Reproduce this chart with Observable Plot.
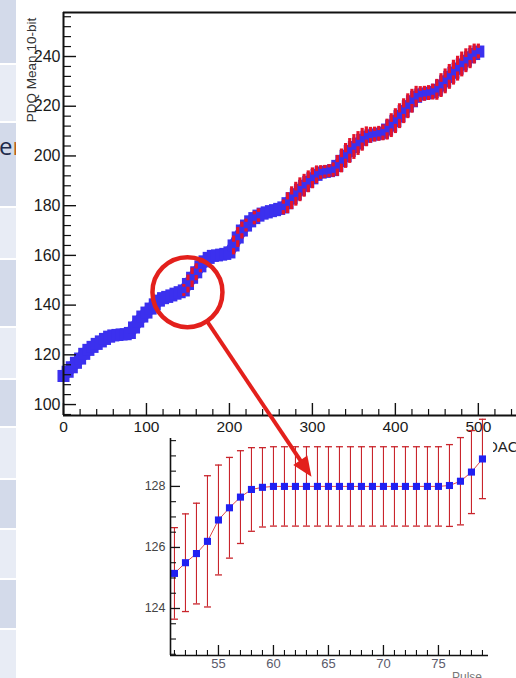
<!DOCTYPE html>
<html>
<head>
<meta charset="utf-8">
<script src="https://cdn.jsdelivr.net/npm/d3@7"></script>
<script src="https://cdn.jsdelivr.net/npm/@observablehq/plot@0.6"></script>
<style>
  html, body { margin:0; padding:0; background:#fff; overflow:hidden; }
  #wrap { position:relative; width:516px; height:678px; overflow:hidden; background:#fff; font-family:"Liberation Sans", Arial, sans-serif; }
  .abs { position:absolute; }
</style>
</head>
<body>
<div id="wrap"></div>
<script>
// ---------------- data: main plot (PDQ mean vs DAC) ----------------
const dac = [0,5,10,15,20,25,30,35,40,45,50,55,60,65,70,75,80,85,90,95,
  100,105,110,115,120,125,130,135,140,145,150,155,160,165,170,175,180,185,190,195,
  200,205,210,215,220,225,230,235,240,245,250,255,260,265,270,275,280,285,290,295,
  300,305,310,315,320,325,330,335,340,345,350,355,360,365,370,375,380,385,390,395,
  400,405,410,415,420,425,430,435,440,445,450,455,460,465,470,475,480,485,490,495,500];
const pdqMean = [111.5,113.2,115.0,116.8,118.5,120.4,122.0,123.2,124.4,125.4,126.4,127.3,127.8,128.0,128.2,128.3,128.8,131.0,133.4,135.4,
  137.0,138.6,140.3,141.8,142.8,143.3,143.9,144.6,145.2,145.9,148.5,151.0,153.2,155.6,157.6,159.0,159.8,160.0,160.3,160.6,
  161.2,164.0,167.2,170.0,172.0,173.7,175.0,176.0,176.8,177.3,177.8,178.2,178.7,179.3,181.0,183.0,184.6,186.4,188.0,189.6,
  191.0,192.4,193.3,193.6,193.9,194.3,196.0,198.0,200.0,202.0,203.6,205.0,206.5,207.7,208.3,208.6,208.9,209.3,210.6,212.2,
  214.0,216.0,218.0,220.0,222.0,223.8,224.7,225.0,225.3,225.7,226.6,228.3,230.0,231.8,233.5,235.1,236.8,238.3,239.7,241.0,242.0];
const pdqErr = [1.2,1.2,1.2,1.2,1.2,1.2,1.2,1.2,1.2,1.2,1.2,1.2,1.2,1.2,1.2,1.2,1.2,1.2,1.2,1.2,
  1.2,1.2,1.2,1.2,1.2,1.2,1.2,1.2,1.2,2.4,3.6,3.9,3.4,2.6,1.6,1.6,1.6,1.6,1.6,1.6,
  1.8,3.8,4.0,3.4,2.6,1.8,2.7,2.7,1.8,1.6,1.6,1.6,1.8,3.0,4.2,4.6,4.8,4.8,4.6,4.4,
  4.2,3.6,2.8,2.6,2.6,2.9,4.2,4.8,5.0,5.0,5.0,4.8,4.6,4.0,3.2,3.0,3.0,3.2,4.2,4.8,
  5.0,5.0,5.0,5.0,4.8,4.2,3.2,3.0,3.0,3.2,4.2,4.8,5.0,5.0,5.0,5.0,5.0,4.8,4.6,4.0,3.0];
const mainXTicks = [0,100,200,300,400,500];
const mainYTicks = [100,120,140,160,180,200,220,240];
const mainXDomain = [0, 546];
const mainYDomain = [95.6, 257.7];

// ---------------- data: inset (zoom) ----------------
const pulse = [51,52,53,54,55,56,57,58,59,60,61,62,63,64,65,66,67,68,69,70,71,72,73,74,75,76,77,78,79];
const insetMean = [125.15,125.5,125.8,126.2,126.9,127.3,127.65,127.9,127.97,128.0,128.0,128.0,128.0,128.0,128.0,128.0,
  128.0,128.0,128.0,128.0,128.0,128.0,128.0,128.0,128.0,128.03,128.17,128.47,128.9];
const insetErr = [1.5,1.6,1.65,2.15,1.8,1.65,1.52,1.37,1.3,1.3,1.3,1.3,1.3,1.3,1.3,1.3,
  1.3,1.3,1.3,1.3,1.3,1.3,1.3,1.3,1.3,1.34,1.43,1.36,1.3];
const insetXTicks = [55,60,65,70,75];
const insetYTicks = [124,126,128];
const insetXDomain = [50.64, 79.55];
const insetYDomain = [122.46, 129.57];

// annotation anchors (data coordinates)
const zoomCircle = {dac: 150, mean: 145};
const arrowTarget = {pulse: 63.5, mean: 128.3};

// ---------------- styles ----------------
const BLUE = "#3b30ee", RED = "#e3142b", IBLUE = "#2020f2", IRED = "#c9252c", INK = "#111";
const FONT = "'Liberation Sans', Arial, Helvetica, sans-serif";

const wrap = document.getElementById("wrap");

// slide-table strip at the far left
const stripRows = [0,65,123,208,260,328,380,428,480,530,580,630,680];
const strip = document.createElement("div");
strip.className = "abs";
Object.assign(strip.style, {left:"0px", top:"0px", width:"16px", height:"678px", overflow:"hidden"});
stripRows.slice(0, -1).forEach((t, i) => {
  const r = document.createElement("div");
  r.className = "abs";
  Object.assign(r.style, {left:"0px", top:t+"px", width:"16px", height:(stripRows[i+1]-t-2)+"px",
    background: i % 2 ? "#e8ecf5" : "#d3daea"});
  strip.appendChild(r);
});
const eText = document.createElement("div");
eText.className = "abs";
eText.innerHTML = 'e<span style="color:#c0601a">r</span>';
Object.assign(eText.style, {left:"-1px", top:"134px", fontFamily:"'Open Sans', Arial, sans-serif", fontSize:"24px", lineHeight:"24px", color:"#1e2a4a", whiteSpace:"nowrap"});
strip.appendChild(eText);
wrap.appendChild(strip);

// ---------------- main plot ----------------
const mainRows = dac.map((d, i) => ({x: d, y: pdqMean[i], e: pdqErr[i]}));
const gap = 1.3;
const errRows = mainRows.filter(d => d.e > 2.0);
const mainYMinor = d3.range(96, 258, 4).filter(v => !mainYTicks.includes(v));
const mainXMinor = d3.range(0, 546, 20).filter(v => !mainXTicks.includes(v));

const main = Plot.plot({
  width: 516, height: 440,
  marginLeft: 63, marginRight: 0, marginTop: 12, marginBottom: 25,
  x: {domain: mainXDomain, label: null},
  y: {domain: mainYDomain, label: null},
  style: {fontFamily: FONT, background: "transparent", overflow: "visible"},
  marks: [
    Plot.line(mainRows, {x: "x", y: "y", stroke: BLUE, strokeWidth: 11}),
    Plot.dot(mainRows, {x: "x", y: "y", symbol: "square", r: 6.8, fill: BLUE}),
    Plot.ruleX(errRows, {x: "x", y1: d => d.y + gap, y2: d => d.y + d.e, stroke: RED, strokeWidth: 3.2}),
    Plot.ruleX(errRows, {x: "x", y1: d => d.y - gap, y2: d => d.y - d.e, stroke: RED, strokeWidth: 3.2}),
    Plot.ruleY([mainYDomain[1]], {stroke: INK, strokeWidth: 2}),
    Plot.ruleY([mainYDomain[0]], {stroke: INK, strokeWidth: 2}),
    Plot.ruleX([mainXDomain[0]], {stroke: INK, strokeWidth: 2}),
    Plot.axisY(mainYMinor, {tickSize: -8, tickFormat: () => "", color: INK, strokeWidth: 1.2, label: null}),
    Plot.axisY(mainYTicks, {tickSize: -13, tickFormat: () => "", color: INK, strokeWidth: 1.4, label: null}),
    Plot.axisY(mainYTicks, {tickSize: 0, tickPadding: 3, fontSize: 16, color: "#1a1a1a", label: null}),
    Plot.axisX(mainXMinor, {tickSize: -6, tickFormat: () => "", color: INK, strokeWidth: 1.2, label: null}),
    Plot.axisX(mainXTicks, {tickSize: -12, tickFormat: () => "", color: INK, strokeWidth: 1.4, label: null}),
    Plot.axisX(mainXTicks, {tickSize: 0, tickPadding: 5, fontSize: 15.5, color: "#1a1a1a", label: null})
  ]
});
main.style.position = "absolute";
main.style.left = "0px";
main.style.top = "0px";
wrap.appendChild(main);

// axis titles of main plot
const yTitle = document.createElement("div");
yTitle.className = "abs";
yTitle.textContent = "PDQ Mean,10-bit";
Object.assign(yTitle.style, {left:"31px", top:"70px", transform:"translate(-50%,-50%) rotate(-90deg)", fontSize:"13.5px", color:"#333", whiteSpace:"nowrap"});
wrap.appendChild(yTitle);

const xTitle = document.createElement("div");
xTitle.className = "abs";
xTitle.textContent = "DAC";
Object.assign(xTitle.style, {left:"487px", top:"438px", fontSize:"15px", color:"#222", whiteSpace:"nowrap"});
wrap.appendChild(xTitle);

// ---------------- inset plot ----------------
const insetRows = pulse.map((p, i) => ({x: p, y: insetMean[i], e: insetErr[i]}));
const capSymbol = {draw(ctx) { ctx.moveTo(-3.5, 0); ctx.lineTo(3.5, 0); }};
const insetYMinor = d3.range(122.5, 129.6, 0.5).filter(v => !insetYTicks.includes(v));
const insetXMinor = d3.range(51, 80, 1).filter(v => !insetXTicks.includes(v));
const INSET_LEFT = 128, INSET_TOP = 433;

const inset = Plot.plot({
  width: 365, height: 245,
  marginLeft: 42, marginRight: 5, marginTop: 5, marginBottom: 23,
  x: {domain: insetXDomain, label: null},
  y: {domain: insetYDomain, label: null},
  style: {fontFamily: FONT, background: "#fff", overflow: "visible"},
  marks: [
    Plot.line(insetRows, {x: "x", y: "y", stroke: "#e04848", strokeWidth: 1}),
    Plot.ruleX(insetRows, {x: "x", y1: d => d.y - d.e, y2: d => d.y + d.e, stroke: IRED, strokeWidth: 1.1}),
    Plot.dot(insetRows, {x: "x", y: d => d.y + d.e, symbol: capSymbol, stroke: IRED, fill: "none", strokeWidth: 1.3}),
    Plot.dot(insetRows, {x: "x", y: d => d.y - d.e, symbol: capSymbol, stroke: IRED, fill: "none", strokeWidth: 1.3}),
    Plot.dot(insetRows, {x: "x", y: "y", symbol: "square", r: 4, fill: IBLUE}),
    Plot.ruleX([insetXDomain[0]], {stroke: INK, strokeWidth: 1.6}),
    Plot.ruleY([insetYDomain[0]], {stroke: INK, strokeWidth: 1.6}),
    Plot.axisY(insetYMinor, {tickSize: -6, tickFormat: () => "", color: INK, strokeWidth: 1.1, label: null}),
    Plot.axisY(insetYTicks, {tickSize: -10, tickFormat: () => "", color: INK, strokeWidth: 1.3, label: null}),
    Plot.axisY(insetYTicks, {tickSize: 0, tickPadding: 5, fontSize: 12.5, color: "#444", label: null}),
    Plot.axisX(insetXMinor, {tickSize: -5, tickFormat: () => "", color: INK, strokeWidth: 1.1, label: null}),
    Plot.axisX(insetXTicks, {tickSize: -10, tickFormat: () => "", color: INK, strokeWidth: 1.3, label: null}),
    Plot.axisX(insetXTicks, {tickSize: 0, tickPadding: 3, fontSize: 13, color: "#5a5a6a", label: null})
  ]
});
inset.style.position = "absolute";
inset.style.left = INSET_LEFT + "px";
inset.style.top = INSET_TOP + "px";
wrap.appendChild(inset);

const pTitle = document.createElement("div");
pTitle.className = "abs";
pTitle.textContent = "Pulse";
Object.assign(pTitle.style, {left:"452px", top:"670px", fontSize:"12px", color:"#777", whiteSpace:"nowrap"});
wrap.appendChild(pTitle);

// ---------------- annotation overlay: circle + arrow ----------------
const cx = main.scale("x").apply(zoomCircle.dac);
const cy = main.scale("y").apply(zoomCircle.mean);
const tx = inset.scale("x").apply(arrowTarget.pulse) + INSET_LEFT;
const ty = inset.scale("y").apply(arrowTarget.mean) + INSET_TOP;
const R = 35, headL = 20, headW = 8.5;
const ang = Math.atan2(ty - cy, tx - cx);
const ca = Math.cos(ang), sa = Math.sin(ang);
const sx = cx + R * ca, sy = cy + R * sa;
const bx = tx - headL * ca, by = ty - headL * sa;

const ov = d3.select(wrap).append("svg")
  .attr("width", 516).attr("height", 678)
  .style("position", "absolute").style("left", "0px").style("top", "0px");
ov.append("circle").attr("cx", cx).attr("cy", cy).attr("r", R)
  .attr("fill", "none").attr("stroke", "#e3201c").attr("stroke-width", 4.5);
ov.append("line").attr("x1", sx).attr("y1", sy).attr("x2", bx + 2 * ca).attr("y2", by + 2 * sa)
  .attr("stroke", "#e3201c").attr("stroke-width", 4);
ov.append("polygon")
  .attr("points", [[tx, ty], [bx - headW * sa, by + headW * ca], [bx + headW * sa, by - headW * ca]].map(p => p.join(",")).join(" "))
  .attr("fill", "#e3201c");
</script>
</body>
</html>
